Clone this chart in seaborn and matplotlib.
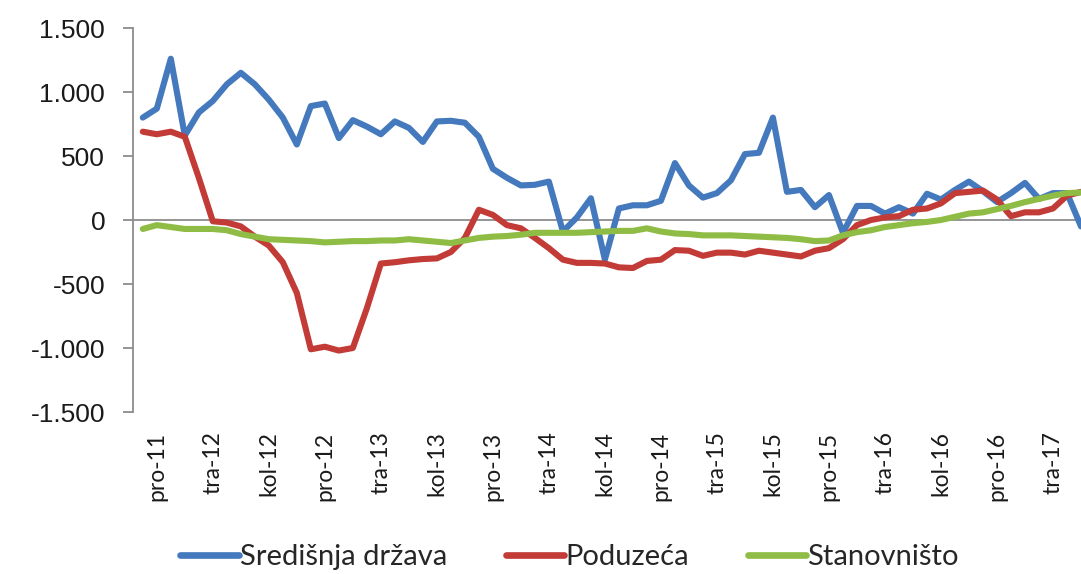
import numpy as np
import pandas as pd
import matplotlib
matplotlib.use('Agg')
import matplotlib.pyplot as plt
import seaborn as sns

# monthly series, stu-11 .. lip-17 (68 months)
drzava = [800, 870, 1260, 660, 840, 930, 1060, 1150, 1060, 940,
          800, 590, 890, 910, 640, 780, 730, 670, 770, 720,
          610, 770, 775, 760, 650, 400, 330, 270, 275, 300,
          -90, 20, 170, -310, 90, 115, 115, 150, 445, 270,
          175, 210, 310, 515, 525, 800, 220, 235, 100, 195,
          -100, 110, 110, 50, 100, 50, 205, 160, 235, 300,
          225, 140, 210, 290, 165, 210, 210, -50]
poduzeca = [690, 670, 690, 650, 330, -10, -20, -50, -130, -200,
            -330, -570, -1010, -990, -1020, -1000, -690, -340, -330, -315,
            -305, -300, -250, -140, 80, 40, -40, -65, -140, -220,
            -310, -335, -335, -340, -370, -375, -320, -310, -235, -240,
            -280, -255, -255, -270, -240, -255, -270, -285, -240, -220,
            -150, -40, 0, 20, 30, 80, 90, 130, 210, 220,
            230, 160, 30, 60, 60, 90, 190, 220]
stanovnistvo = [-70, -40, -55, -70, -70, -70, -80, -110, -130, -150,
                -155, -160, -165, -175, -170, -165, -165, -160, -160, -150,
                -160, -170, -180, -160, -140, -130, -125, -115, -100, -100,
                -100, -100, -95, -90, -85, -85, -65, -90, -105, -110,
                -120, -120, -120, -125, -130, -135, -140, -150, -165, -160,
                -120, -95, -80, -55, -40, -25, -15, 0, 25, 50,
                60, 85, 110, 140, 165, 190, 210, 215]

series_names = ['Središnja država', 'Poduzeća', 'Stanovništo']
colors = ['#4479bd', '#c23b36', '#8fbc45']

tick_labels = ['pro-11', 'tra-12', 'kol-12', 'pro-12', 'tra-13', 'kol-13',
               'pro-13', 'tra-14', 'kol-14', 'pro-14', 'tra-15', 'kol-15',
               'pro-15', 'tra-16', 'kol-16', 'pro-16', 'tra-17']
y_ticks = [-1500, -1000, -500, 0, 500, 1000, 1500]
y_labels = ['-1.500', '-1.000', '-500', '0', '500', '1.000', '1.500']

n = len(drzava)
df = pd.DataFrame({
    'mjesec': list(range(n)) * 3,
    'iznos': drzava + poduzeca + stanovnistvo,
    'serija': [series_names[0]] * n + [series_names[1]] * n + [series_names[2]] * n,
})

sns.set_style('white')
fig = plt.figure(figsize=(10.81, 5.74), dpi=100)
ax = fig.add_axes([133 / 1081, 1 - 412 / 574, 1 - 133 / 1081, (412 - 28) / 574])

sns.lineplot(data=df, x='mjesec', y='iznos', hue='serija', hue_order=series_names,
             palette=colors, linewidth=4.4, ax=ax, sort=False)

ax.set_xlim(-0.7, 67.0)
ax.set_ylim(-1500, 1500)
ax.set_xlabel('')
ax.set_ylabel('')

grey = '#8c8c8c'
for s in ['top', 'right']:
    ax.spines[s].set_visible(False)
ax.spines['left'].set_color(grey)
ax.spines['left'].set_linewidth(1.3)
ax.spines['bottom'].set_position(('data', 0))
ax.spines['bottom'].set_color(grey)
ax.spines['bottom'].set_linewidth(1.3)
ax.spines['bottom'].set_zorder(0)

# tick marks on zero line between category groups
ax.set_xticks(np.arange(3.5, 67, 4))
ax.tick_params(axis='x', direction='out', length=7, width=1.3, color=grey,
               labelbottom=False)

ax.set_yticks(y_ticks)
ax.set_yticklabels(y_labels, fontsize=19, family='Liberation Sans', color='#1a1a1a')
ax.tick_params(axis='y', direction='out', length=7, width=1.3, color=grey, pad=13,
               left=True)

# month labels at the bottom of the plot area
sec = ax.secondary_xaxis('bottom')
sec.set_xticks(np.arange(1, 67, 4))
sec.set_xticklabels(tick_labels, rotation=90, fontsize=16.5, family='Lato',
                    color='#1a1a1a')
sec.tick_params(length=0, pad=14)
sec.spines['bottom'].set_visible(False)

handles, labels = ax.get_legend_handles_labels()
ax.get_legend().remove()
for h in handles:
    h.set_linewidth(4.8)
fig.legend(handles, labels, loc='center', bbox_to_anchor=(0.527, 0.03), ncol=3,
           frameon=False, prop={'family': 'Lato', 'size': 21}, handlelength=2.0,
           handletextpad=0.05, columnspacing=2.0)

fig.savefig('out.png', dpi=100)
